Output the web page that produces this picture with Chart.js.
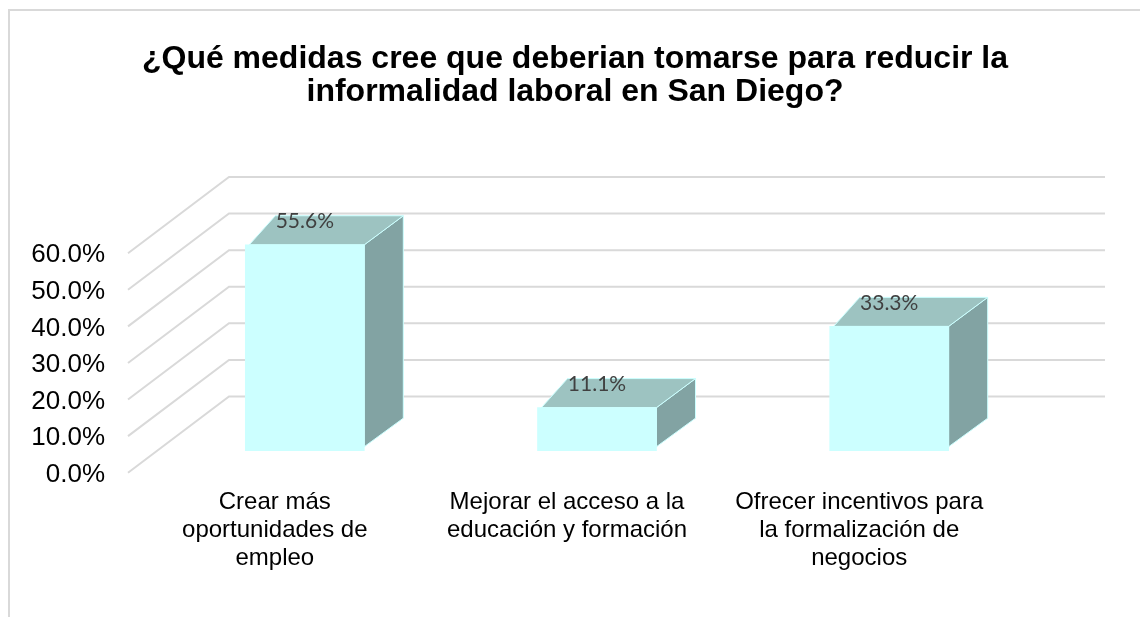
<!DOCTYPE html>
<html lang="es">
<head>
<meta charset="utf-8">
<title>Informalidad laboral en San Diego</title>
<script src="https://cdn.jsdelivr.net/npm/chart.js@4/dist/chart.umd.min.js"></script>
<style>
  html, body { margin: 0; background: #fff; }
  #wrap { position: relative; width: 1140px; height: 617px; overflow: hidden; }
  #marco { position: absolute; left: 8px; top: 9px; right: -4px; bottom: -4px; border: 2px solid #d9d9d9; }
  canvas { position: absolute; left: 0; top: 0; }
</style>
</head>
<body>
<div id="wrap">
  <div id="marco"></div>
  <canvas id="chart" width="1140" height="617"></canvas>
</div>
<script>
const titleLines = [
  '¿Qué medidas cree que deberian tomarse para reducir la',
  'informalidad laboral en San Diego?'
];
const categories = [
  ['Crear más', 'oportunidades de', 'empleo'],
  ['Mejorar el acceso a la', 'educación y formación'],
  ['Ofrecer incentivos para', 'la formalización de', 'negocios']
];
const values = [55.6, 11.1, 33.3];
const tickValues = [0, 10, 20, 30, 40, 50, 60];

// Profundidad del falso 3D
const GRID_COLOR = '#d9d9d9';
const FRONT_COLOR = '#ccffff';
const TOP_COLOR = '#9dc3c1';
const SIDE_COLOR = '#82a3a3';

const depth3d = {
  id: 'depth3d',
  beforeDatasetsDraw(chart) {
    const { ctx } = chart;
    const y = chart.scales.y;

    // Pared del fondo y diagonales
    ctx.save();
    ctx.strokeStyle = GRID_COLOR;
    ctx.lineWidth = 2;
    tickValues.forEach(v => {
      const py = y.getPixelForValue(v);
      ctx.beginPath();
      ctx.moveTo(128, py + 24.5);
      ctx.lineTo(229, py - 51.7);
      ctx.lineTo(1105, py - 51.7);
      ctx.stroke();
    });

    // Caras superior y lateral de cada barra
    const floor = y.getPixelForValue(0) - 1.5;
    ctx.strokeStyle = FRONT_COLOR;
    ctx.lineWidth = 1;
    chart.getDatasetMeta(0).data.forEach(bar => {
      const left = bar.x - bar.width / 2;
      const right = bar.x + bar.width / 2;
      const top = bar.y;

      ctx.fillStyle = SIDE_COLOR;
      ctx.beginPath();
      ctx.moveTo(right, top);
      ctx.lineTo(right + 39, top - 29);
      ctx.lineTo(right + 39, floor - 28.5);
      ctx.lineTo(right, floor);
      ctx.closePath();
      ctx.fill();
      ctx.stroke();

      ctx.fillStyle = TOP_COLOR;
      ctx.beginPath();
      ctx.moveTo(left + 4, top);
      ctx.lineTo(right, top);
      ctx.lineTo(right + 39, top - 29);
      ctx.lineTo(left + 30, top - 29);
      ctx.closePath();
      ctx.fill();
      ctx.stroke();
    });
    ctx.restore();
  },
  afterDatasetsDraw(chart) {
    const { ctx } = chart;
    ctx.save();
    ctx.font = '21px Lato';
    ctx.fillStyle = '#404040';
    ctx.textAlign = 'center';
    ctx.textBaseline = 'middle';
    chart.getDatasetMeta(0).data.forEach((bar, i) => {
      ctx.fillText(values[i].toFixed(1) + '%', bar.x, bar.y - 23.5);
    });
    ctx.restore();
  }
};

new Chart(document.getElementById('chart'), {
  type: 'bar',
  plugins: [depth3d],
  data: {
    labels: categories,
    datasets: [{
      data: values,
      base: -0.7,
      clip: false,
      backgroundColor: FRONT_COLOR,
      barThickness: 119
    }]
  },
  options: {
    responsive: false,
    animation: false,
    layout: { padding: { left: 10, right: 0, top: 0, bottom: 0 } },
    plugins: {
      legend: { display: false },
      tooltip: { enabled: false },
      title: {
        display: true,
        text: titleLines,
        color: '#000',
        font: { family: 'Liberation Sans', size: 32, weight: 'bold', lineHeight: 1.02 },
        padding: { top: 43, bottom: 120.4 }
      }
    },
    scales: {
      x: {
        grid: { display: false, drawTicks: false },
        border: { display: false },
        afterFit(s) { s.height = 168.8; },
        ticks: {
          color: '#000',
          font: { family: 'Liberation Sans', size: 24, lineHeight: 1.17 },
          padding: 40,
          labelOffset: -30,
          maxRotation: 0,
          autoSkip: false
        }
      },
      y: {
        min: 0,
        max: 60,
        grid: { display: false, drawTicks: false },
        border: { display: false },
        afterFit(s) { s.width = 148.7; },
        afterBuildTicks(s) { s.ticks = tickValues.map(v => ({ value: v })); },
        ticks: {
          color: '#000',
          font: { family: 'Liberation Sans', size: 26 },
          padding: 53.7,
          labelOffset: 26.5,
          callback: v => v.toFixed(1) + '%'
        }
      },
      // Eje vacío para reservar el margen derecho sin mover el título
      margen: {
        axis: 'y',
        position: 'right',
        grid: { display: false, drawTicks: false },
        border: { display: false },
        ticks: { display: false },
        afterFit(s) { s.width = 104.7; }
      }
    }
  }
});
</script>
</body>
</html>
